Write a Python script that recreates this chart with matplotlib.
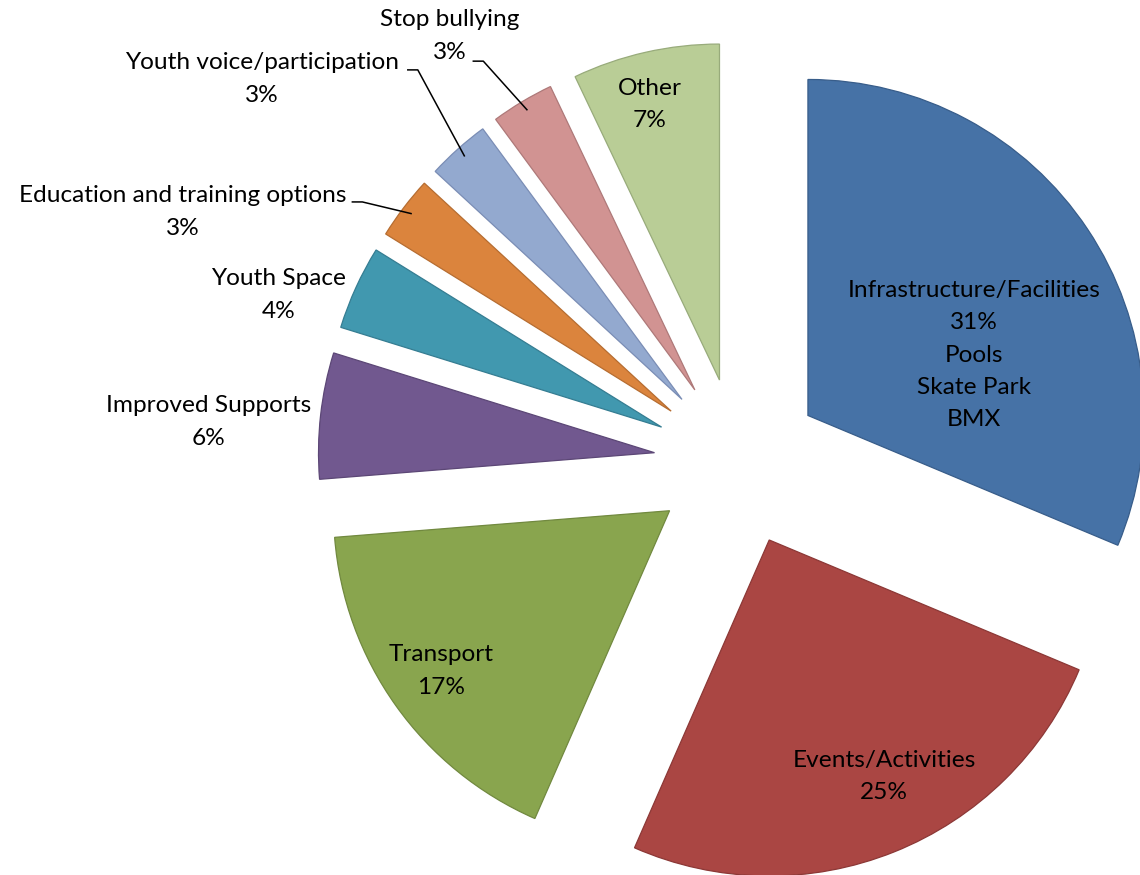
import numpy as np
import matplotlib.pyplot as plt

# ---------------- Data ----------------
categories = ["Infrastructure/Facilities", "Events/Activities", "Transport",
              "Improved Supports", "Youth Space", "Education and training options",
              "Youth voice/participation", "Stop bullying", "Other"]
values = [31, 25, 17, 6, 4, 3, 3, 3, 7]
extra_lines = {"Infrastructure/Facilities": ["Pools", "Skate Park", "BMX"]}

fills = ["#4672A6", "#AA4643", "#89A54E", "#71588F", "#4198AF",
         "#DB843D", "#93A9CF", "#D19392", "#B9CD96"]
edges = ["#385D8A", "#8C3836", "#71893F", "#5C4776", "#357D92",
         "#B66D31", "#7A8DB5", "#AE7979", "#98AB7B"]

# label centres (data units, pie radius = 1)
label_pos = [(0.702, 0.318), (0.435, -0.935), (-0.884, -0.622),
             (-1.577, 0.119), (-1.366, 0.497), (-1.652, 0.744),
             (-1.417, 1.140), (-0.857, 1.268), (-0.262, 1.065)]
# leader lines: start of the short horizontal tick, then run to the slice
leaders = {5: (-1.150, 0.774), 6: (-0.985, 1.167), 7: (-0.790, 1.193)}

explode_r = 0.25

# ---------------- Plot ----------------
fig = plt.figure(figsize=(11.4, 8.75), dpi=100)
ax = fig.add_axes([0, 0, 1, 1])

wedges, _ = ax.pie(values, startangle=90, counterclock=False,
                   explode=[explode_r] * len(values), colors=fills,
                   wedgeprops=dict(linewidth=0.9))
for w, ec in zip(wedges, edges):
    w.set_edgecolor(ec)

font = dict(family=["Lato", "DejaVu Sans"], fontsize=17.6, color="black")

for i, (cat, v) in enumerate(zip(categories, values)):
    lines = [cat, f"{v}%"] + extra_lines.get(cat, [])
    x, y = label_pos[i]
    ax.text(x, y, "\n".join(lines), ha="center", va="center",
            linespacing=1.66, **font)

    if i in leaders:
        w = wedges[i]
        mid = np.deg2rad((w.theta1 + w.theta2) / 2)
        cx, cy = w.center
        ex, ey = cx + 0.97 * np.cos(mid), cy + 0.97 * np.sin(mid)
        sx, sy = leaders[i]
        ax.plot([sx, sx + 0.032, ex], [sy, sy, ey], color="black", lw=1.1,
                solid_capstyle="butt")

ax.set_xlim(-738 / 336, (1140 - 738) / 336)
ax.set_ylim(-(875 - 462) / 336, 462 / 336)
ax.set_aspect("equal")
ax.axis("off")

fig.savefig("out.png", dpi=100, facecolor="white")
